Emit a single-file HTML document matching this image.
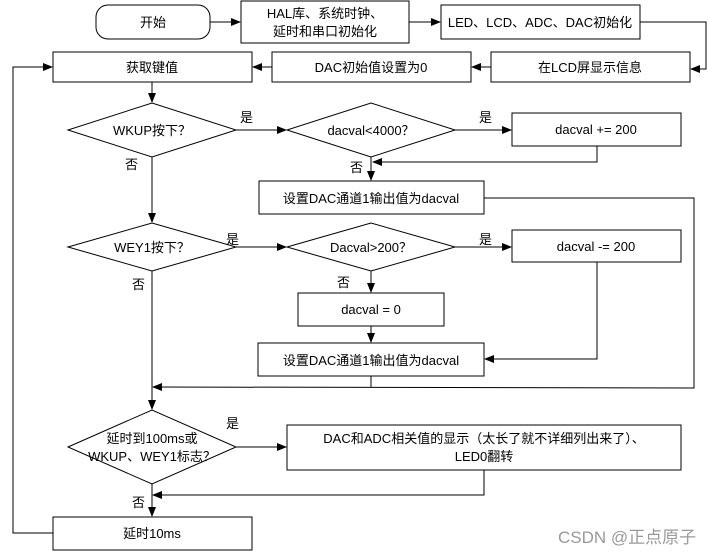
<!DOCTYPE html>
<html><head><meta charset="utf-8"><style>
body{margin:0;background:#fff}
text{font-family:"Liberation Sans","Noto Sans CJK SC",sans-serif;font-size:13px;fill:#000}
</style></head><body>
<svg width="708" height="552" viewBox="0 0 708 552" xmlns="http://www.w3.org/2000/svg">
<defs><marker id="a" markerWidth="10" markerHeight="8" refX="9" refY="4" orient="auto" markerUnits="userSpaceOnUse"><path d="M0,0 L10,4 L0,8 z" fill="#000"/></marker></defs>
<g fill="none" stroke="#000" stroke-width="1">
<rect x="96" y="5" width="114" height="34" rx="12"/>
<rect x="241" y="1" width="168" height="42"/>
<rect x="441" y="5" width="199" height="34"/>
<rect x="53" y="52" width="199" height="30"/>
<rect x="272" y="52" width="199" height="30"/>
<rect x="491" y="52" width="199" height="30"/>
<polygon points="68,130 152,103 236,130 152,157"/>
<polygon points="287,130 371,103 455,130 371,157"/>
<rect x="512" y="113" width="169" height="33"/>
<rect x="259" y="181" width="225" height="33"/>
<polygon points="68,247 152,223 236,247 152,271"/>
<polygon points="287,247 371,223 455,247 371,271"/>
<rect x="512" y="230" width="169" height="32"/>
<rect x="298" y="293" width="146" height="33"/>
<rect x="258" y="343" width="226" height="33"/>
<polygon points="68,447 152,410 236,447 152,484"/>
<rect x="287" y="425" width="394" height="45"/>
<rect x="53" y="517" width="199" height="33"/>
</g>
<g fill="none" stroke="#000" stroke-width="1" marker-end="url(#a)">
<line x1="210" y1="22" x2="240" y2="22"/>
<line x1="409" y1="22" x2="440" y2="22"/>
<polyline points="640,22 706,22 706,69 691,69"/>
<line x1="491" y1="67" x2="472" y2="67"/>
<line x1="272" y1="67" x2="253" y2="67"/>
<line x1="152" y1="82" x2="152" y2="102"/>
<line x1="236" y1="130" x2="286" y2="130"/>
<line x1="455" y1="130" x2="511" y2="130"/>
<polyline points="597,146 597,162 373,162"/>
<line x1="371" y1="157" x2="371" y2="180"/>
<line x1="152" y1="157" x2="152" y2="222"/>
<line x1="236" y1="247" x2="286" y2="247"/>
<line x1="455" y1="247" x2="511" y2="247"/>
<line x1="371" y1="271" x2="371" y2="292"/>
<line x1="371" y1="326" x2="371" y2="342"/>
<polyline points="597,262 597,359 485,359"/>
<polyline points="484,198 694,198 694,388 153,387"/>
<line x1="152" y1="271" x2="152" y2="409"/>
<line x1="236" y1="447" x2="286" y2="447"/>
<polyline points="484,470 484,495 153,495"/>
<line x1="152" y1="484" x2="152" y2="516"/>
<polyline points="53,533 13,533 13,67 52,67"/>
</g>
<line x1="371" y1="376" x2="371" y2="387" stroke="#000"/>
<g text-anchor="middle">
<text x="153" y="27">开始</text>
<text x="325" y="18">HAL库、系统时钟、</text>
<text x="325" y="36">延时和串口初始化</text>
<text x="540" y="27">LED、LCD、ADC、DAC初始化</text>
<text x="152" y="72">获取键值</text>
<text x="371" y="72">DAC初始值设置为0</text>
<text x="590" y="72">在LCD屏显示信息</text>
<text x="152" y="135">WKUP按下？</text>
<text x="371" y="135">dacval&lt;4000？</text>
<text x="596" y="134">dacval  += 200</text>
<text x="371" y="203">设置DAC通道1输出值为dacval</text>
<text x="152" y="252">WEY1按下？</text>
<text x="371" y="252">Dacval&gt;200？</text>
<text x="596" y="251">dacval -= 200</text>
<text x="371" y="314">dacval = 0</text>
<text x="371" y="365">设置DAC通道1输出值为dacval</text>
<text x="152" y="443">延时到100ms或</text>
<text x="152" y="461">WKUP、WEY1标志？</text>
<text x="484" y="443">DAC和ADC相关值的显示（太长了就不详细列出来了）、</text>
<text x="484" y="461">LED0翻转</text>
<text x="152" y="538">延时10ms</text>
</g>
<text x="240" y="122">是</text>
<text x="479" y="122">是</text>
<text x="350" y="172">否</text>
<text x="125" y="169">否</text>
<text x="226" y="244">是</text>
<text x="479" y="244">是</text>
<text x="337" y="287">否</text>
<text x="132" y="289">否</text>
<text x="226" y="428">是</text>
<text x="132" y="507">否</text>
<text x="558" y="543" style="fill:#999;font-size:17px">CSDN @正点原子</text>
</svg>
</body></html>
